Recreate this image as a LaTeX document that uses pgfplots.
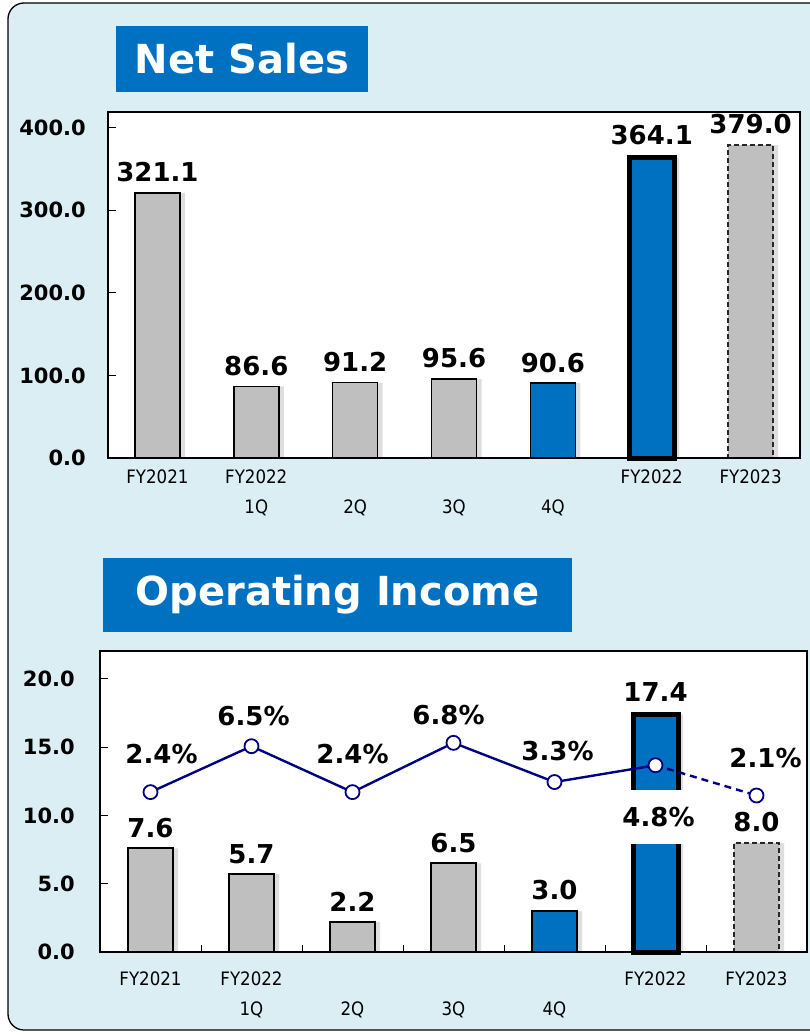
\documentclass[border=0pt]{standalone}
\usepackage{fontspec}
\setmainfont{DejaVu Sans}
\newfontfamily\condfont{DejaVu Sans Condensed}
\usepackage{pgfplots}
\pgfplotsset{compat=1.18}
\usepackage{pgfplotstable}
\definecolor{panel}{HTML}{DAEEF3}
\definecolor{barblue}{HTML}{0070C0}
\definecolor{bargray}{HTML}{BFBFBF}
\definecolor{navyline}{HTML}{000080}

\pgfplotstableread{
x y
0 321.1
1 86.6
2 91.2
3 95.6
4 90.6
5 364.1
6 379.0
}\sales

\pgfplotstableread{
x y
0 7.6
1 5.7
2 2.2
3 6.5
4 3.0
5 17.4
6 8.0
}\income

\pgfplotstableread{
x y dx dy pad
0 2.4 11 38 1
1 6.5 2 30 1
2 2.4 0 38 1
3 6.8 -5 28 1
4 3.3 3 31 1
5 4.8 3 -52 17
6 2.1 9 37 1
}\margin

\pgfplotsset{
  /pgf/number format/assume math mode=true,
  basebar/.style={ybar, bar width=45pt, bar shift=0pt,
    nodes near coords={\pgfmathprintnumber[fixed,fixed zerofill,precision=1]{\pgfplotspointmeta}},
    every node near coord/.append style={font=\bfseries\fontsize{26}{26}\selectfont, text=black, anchor=south, inner sep=3pt, yshift=7pt}},
  graybar/.style={basebar, fill=bargray, draw=black, line width=1.6pt},
  bluebar/.style={basebar, fill=barblue, draw=black, line width=1.6pt},
  thickbar/.style={basebar, fill=barblue, draw=black, line width=5pt},
  dashbar/.style={basebar, fill=bargray, draw=black!85, line width=1.7pt, dash pattern=on 5pt off 3pt},
  shadowbar/.style={ybar, bar width=45pt, bar shift=5pt, fill=black!13, draw=none},
  chart/.style={
    scale only axis, clip=false, axis on top,
    axis background/.style={fill=white},
    axis line style={line width=1.4pt, black},
    xmin=-0.5, xmax=6.5,
    xtick={0,...,6},
    tick pos=left,
    xticklabels={FY2021,{FY2022\\1Q},{\phantom{FY2022}\\2Q},{\phantom{FY2022}\\3Q},{\phantom{FY2022}\\4Q},FY2022,FY2023},
    xticklabel style={font=\condfont\fontsize{18.5}{30}\selectfont, align=center, anchor=north, inner sep=0pt},
    major x tick style={draw=none},
    tick align=inside,
    major tick length=8pt,
    ytick style={line width=1pt, black},
    yticklabel style={font=\bfseries\fontsize{21}{21}\selectfont, anchor=east, inner sep=0pt,
      /pgf/number format/fixed, /pgf/number format/fixed zerofill, /pgf/number format/precision=1},
  },
}

\begin{document}
\begin{tikzpicture}
\useasboundingbox (0pt,0pt) rectangle (810pt,-1035pt);
\fill[white] (0pt,0pt) rectangle (810pt,-1035pt);
\draw[fill=panel, line width=1.3pt, rounded corners=16pt] (8pt,-3pt) rectangle (840pt,-1030pt);

\node[fill=barblue, text=white, font=\bfseries\fontsize{40}{40}\selectfont,
  minimum width=252pt, minimum height=66pt, inner sep=0pt] at (242pt,-59pt) {Net Sales};
\node[fill=barblue, text=white, font=\bfseries\fontsize{40}{40}\selectfont,
  minimum width=469pt, minimum height=74pt, inner sep=0pt] at (337.5pt,-595pt) {Operating Income};

% ---------- Net Sales ----------
\begin{axis}[chart,
  at={(108pt,-458pt)}, anchor=south west,
  width=692pt, height=346pt,
  ymin=0, ymax=419,
  ytick={0,100,200,300,400},
  xticklabel style={yshift=-12pt},
  yticklabel style={xshift=-22pt},
]
\addplot[shadowbar] table[x=x,y=y] {\sales};
\addplot[graybar, restrict x to domain=0:3] table[x=x,y=y] {\sales};
\addplot[bluebar, restrict x to domain=4:4] table[x=x,y=y] {\sales};
\addplot[thickbar, restrict x to domain=5:5] table[x=x,y=y] {\sales};
\addplot[dashbar, restrict x to domain=6:6] table[x=x,y=y] {\sales};
\end{axis}

% ---------- Operating Income ----------
\begin{axis}[chart,
  at={(100pt,-952pt)}, anchor=south west,
  width=707pt, height=301pt,
  ymin=0, ymax=22.05,
  ytick={0,5,10,15,20},
  minor xtick={0.5,1.5,2.5,3.5,4.5,5.5},
  minor tick length=7pt,
  minor x tick style={line width=1pt, black},
  xticklabel style={yshift=-20pt},
  yticklabel style={xshift=-25pt},
]
\addplot[shadowbar] table[x=x,y=y] {\income};
\addplot[graybar, restrict x to domain=0:3] table[x=x,y=y] {\income};
\addplot[bluebar, restrict x to domain=4:4] table[x=x,y=y] {\income};
\addplot[thickbar, restrict x to domain=5:5] table[x=x,y=y] {\income};
\addplot[dashbar, restrict x to domain=6:6] table[x=x,y=y] {\income};
\end{axis}

\begin{axis}[
  at={(100pt,-952pt)}, anchor=south west,
  scale only axis, width=707pt, height=301pt, clip=false,
  hide axis,
  xmin=-0.5, xmax=6.5, ymin=-11.875, ymax=15,
]
\addplot[navyline, line width=2.4pt, restrict x to domain=0:5] table[x=x,y=y] {\margin};
\addplot[navyline, line width=2.4pt, dash pattern=on 7pt off 5pt, restrict x to domain=5:6] table[x=x,y=y] {\margin};
\addplot[only marks, mark=*, mark size=7pt, mark options={fill=white, draw=navyline, line width=1.8pt},
  visualization depends on={\thisrow{dx} \as \myDX},
  visualization depends on={\thisrow{dy} \as \myDY},
  visualization depends on={\thisrow{pad} \as \myPAD},
  nodes near coords={\pgfmathprintnumber[fixed,fixed zerofill,precision=1]{\pgfplotspointmeta}\%},
  every node near coord/.append style={font=\bfseries\fontsize{26}{26}\selectfont, text=black,
    anchor=center, fill=white, inner xsep=3pt, inner ysep=\myPAD pt, xshift=\myDX pt, yshift=\myDY pt},
] table[x=x,y=y] {\margin};
\end{axis}
\end{tikzpicture}
\end{document}
